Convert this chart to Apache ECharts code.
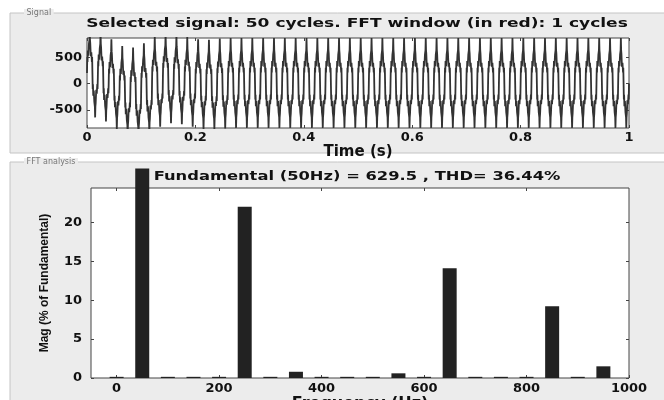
<!DOCTYPE html>
<html>
<head>
<meta charset="utf-8">
<script src="https://cdn.jsdelivr.net/npm/echarts@6/dist/echarts.min.js"></script>
<style>
html, body { margin: 0; padding: 0; background: #fff; }
#main { width: 664px; height: 400px; }
</style>
</head>
<body>
<div id="main"></div>
<script>
var myChart = echarts.init(document.getElementById('main'), null, {renderer: 'canvas'});

// one 20 ms cycle of the signal, 40 samples
var cycleShape = [0, 303, 211, 431, 394, 332, 319, 550, 572, 637,
    865, 637, 572, 550, 319, 332, 394, 431, 211, 303,
    0, -303, -211, -431, -394, -332, -319, -550, -572, -637,
    -843, -637, -572, -550, -319, -332, -394, -431, -211, -303];
// offset of the first cycles (start-up transient)
var startOffsets = [200, 120, -20, -150, -180, -100, 20, 90, 70, 20, -20, -30, -10];
var nCycles = 50;

// FFT bars, % of fundamental (50 Hz bar runs off the axes)
var harmFreq = [0, 50, 100, 150, 200, 250, 300, 350, 400, 450, 500, 550, 600, 650, 700, 750, 800, 850, 900, 950];
var harmMag = [0.15, 26.9, 0.15, 0.15, 0.15, 22.0, 0.15, 0.8, 0.15, 0.15, 0.15, 0.6, 0.15, 14.1, 0.15, 0.15, 0.15, 9.2, 0.15, 1.5];

var sigTicksY = [-500, 0, 500];
var fftTicksX = [0, 200, 400, 600, 800, 1000];
var fftTicksY = [0, 5, 10, 15, 20];

var signal = [];
for (var c = 0; c < nCycles; c++) {
    for (var k = 0; k < cycleShape.length; k++) {
        var t = (c * cycleShape.length + k) / (nCycles * cycleShape.length);
        signal.push([t, cycleShape[k] + (startOffsets[c] || 0)]);
    }
}
signal.push([1, 0]);

var bars = harmFreq.map(function (f, i) { return [f, harmMag[i]]; });

var tickFont = {fontFamily: 'DejaVu Sans', fontWeight: 'bold', fontSize: 13, color: '#111'};
var nameFont = {fontFamily: 'DejaVu Sans', fontWeight: 'bold', fontSize: 15, color: '#111'};
var panelGray = '#ececec';
var tickStyle = {color: '#444'};
var plain = function (v) { return String(v); };

option = {
    backgroundColor: '#ffffff',
    animation: false,
    graphic: [
        {type: 'rect', z: -10, shape: {x: 10, y: 13, width: 660, height: 140},
            style: {fill: panelGray, stroke: '#c4c4c4', lineWidth: 1}},
        {type: 'rect', z: -10, shape: {x: 10, y: 162, width: 660, height: 260},
            style: {fill: panelGray, stroke: '#c4c4c4', lineWidth: 1}},
        {type: 'text', x: 24, y: 13, z: -5, style: {text: ' Signal ', fill: '#777',
            font: '8px "DejaVu Sans"', verticalAlign: 'middle', backgroundColor: panelGray}},
        {type: 'text', x: 24, y: 162, z: -5, style: {text: ' FFT analysis ', fill: '#777',
            font: '8px "DejaVu Sans"', verticalAlign: 'middle', backgroundColor: panelGray}},
        {type: 'text', x: 357, y: 24, scaleX: 1.42, style: {text: 'Selected signal: 50 cycles. FFT window (in red): 1 cycles',
            fill: '#111', font: 'bold 12px "DejaVu Sans"', align: 'center', verticalAlign: 'middle'}},
        {type: 'text', x: 357, y: 177, scaleX: 1.36, style: {text: 'Fundamental (50Hz) = 629.5 , THD= 36.44%',
            fill: '#111', font: 'bold 12px "DejaVu Sans"', align: 'center', verticalAlign: 'middle'}}
    ],
    grid: [
        {left: 87, right: 35, top: 38, height: 90, outerBoundsMode: 'none',
            show: true, backgroundColor: '#fff', borderColor: '#444', borderWidth: 1},
        {left: 91, right: 35, top: 188, height: 190, outerBoundsMode: 'none',
            show: true, backgroundColor: '#fff', borderColor: '#444', borderWidth: 1}
    ],
    xAxis: [
        {type: 'value', gridIndex: 0, min: 0, max: 1, interval: 0.2,
            name: 'Time (s)', nameLocation: 'middle', nameGap: 15, nameTextStyle: nameFont,
            axisLine: {show: false, onZero: false}, splitLine: {show: false},
            axisTick: {inside: true, length: 3, lineStyle: tickStyle},
            axisLabel: Object.assign({margin: 3}, tickFont)},
        {type: 'value', gridIndex: 0, position: 'top', min: 0, max: 1, interval: 0.2,
            axisLine: {show: false, onZero: false}, splitLine: {show: false}, axisLabel: {show: false},
            axisTick: {inside: true, length: 3, lineStyle: tickStyle}},
        {type: 'value', gridIndex: 1, min: -50, max: 1000,
            name: 'Frequency (Hz)', nameLocation: 'middle', nameGap: 11,
            nameTextStyle: Object.assign({}, nameFont, {fontSize: 16}),
            axisLine: {show: false, onZero: false}, splitLine: {show: false},
            axisTick: {inside: true, length: 3, customValues: fftTicksX, lineStyle: tickStyle},
            axisLabel: Object.assign({margin: 4, customValues: fftTicksX, formatter: plain}, tickFont)},
        {type: 'value', gridIndex: 1, position: 'top', min: -50, max: 1000,
            axisLine: {show: false, onZero: false}, splitLine: {show: false}, axisLabel: {show: false},
            axisTick: {inside: true, length: 3, customValues: fftTicksX.slice(0, 5), lineStyle: tickStyle}}
    ],
    yAxis: [
        {type: 'value', gridIndex: 0, min: -845, max: 867,
            axisLine: {show: false, onZero: false}, splitLine: {show: false},
            axisTick: {inside: true, length: 3, customValues: sigTicksY, lineStyle: tickStyle},
            axisLabel: Object.assign({margin: 5, customValues: sigTicksY}, tickFont)},
        {type: 'value', gridIndex: 0, position: 'right', min: -845, max: 867,
            axisLine: {show: false, onZero: false}, splitLine: {show: false}, axisLabel: {show: false},
            axisTick: {inside: true, length: 3, customValues: sigTicksY, lineStyle: tickStyle}},
        {type: 'value', gridIndex: 1, min: 0, max: 24.4,
            name: 'Mag (% of Fundamental)', nameLocation: 'middle', nameGap: 40,
            nameTextStyle: {fontFamily: 'Liberation Sans', fontWeight: 'bold', fontSize: 12, color: '#111'},
            axisLine: {show: false, onZero: false}, splitLine: {show: false},
            axisTick: {inside: true, length: 3, customValues: fftTicksY, lineStyle: tickStyle},
            axisLabel: Object.assign({margin: 9, customValues: fftTicksY}, tickFont)},
        {type: 'value', gridIndex: 1, position: 'right', min: 0, max: 24.4,
            axisLine: {show: false, onZero: false}, splitLine: {show: false}, axisLabel: {show: false},
            axisTick: {inside: true, length: 3, customValues: fftTicksY, lineStyle: tickStyle}}
    ],
    series: [
        {
            name: 'Signal',
            type: 'line',
            xAxisIndex: 0,
            yAxisIndex: 0,
            data: signal,
            showSymbol: false,
            lineStyle: {color: '#333', width: 1.8}
        },
        {
            name: 'FFT',
            type: 'bar',
            xAxisIndex: 2,
            yAxisIndex: 2,
            data: bars,
            barWidth: 14,
            clip: false,
            itemStyle: {color: '#222'}
        }
    ]
};

myChart.setOption(option);
</script>
</body>
</html>
